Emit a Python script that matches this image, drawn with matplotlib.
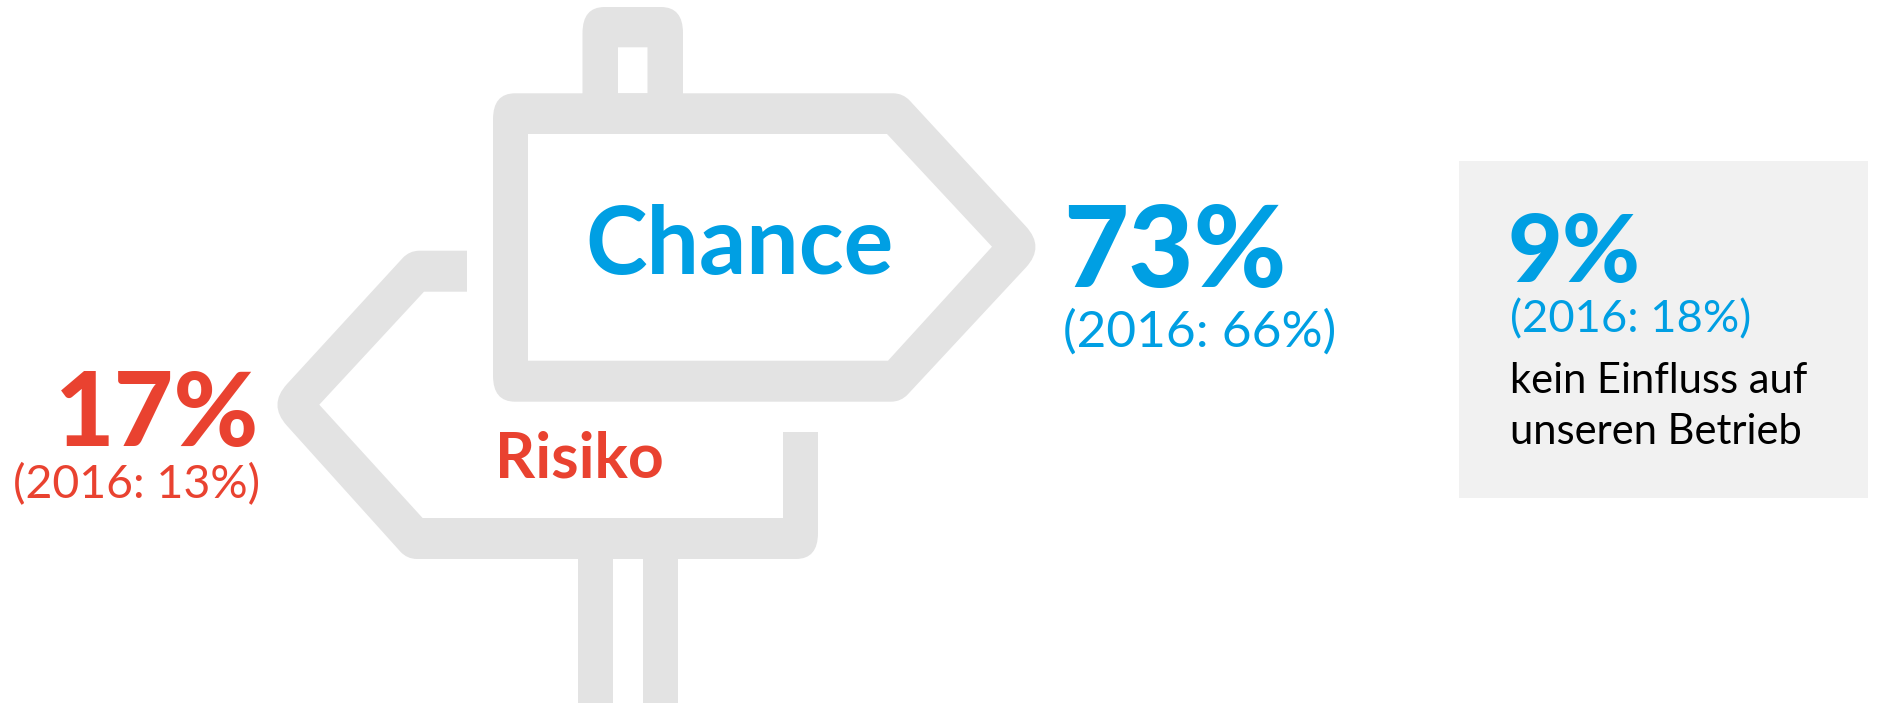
import matplotlib
matplotlib.use('Agg')
import matplotlib.pyplot as plt
from matplotlib.path import Path
from matplotlib.patches import PathPatch, Rectangle
import numpy as np

GREY = '#e3e3e3'
BLUE = '#009fe3'
RED = '#e94230'
BOX = '#f1f1f1'

plt.rcParams['font.family'] = ['Lato', 'Noto Sans', 'DejaVu Sans']

# values shown on the sign
chance_label = 'Chance'
risk_label = 'Risiko'
neutral_label = ['kein Einfluss auf', 'unseren Betrieb']
pct_now = {'chance': 73, 'risk': 17, 'neutral': 9}
pct_2016 = {'chance': 66, 'risk': 13, 'neutral': 18}

# sign outlines in pixels: x, y, cut towards previous corner, cut towards next corner
chance_outer = [(493, 93.3, 26, 22), (903, 93.3, 10, 10), (1045, 247, 28, 28),
                (901, 401.7, 10, 10), (493, 401.7, 22, 26)]
chance_inner = [(528, 134, 0, 0), (887, 134, 0, 0), (992, 246.7, 0, 0),
                (888, 360.7, 0, 0), (528, 360.7, 0, 0)]
post_outer = [(582.5, 100, 0, 0), (582.5, 7, 26, 22), (683, 7, 22, 26), (683, 100, 0, 0)]
post_hole = [(618, 47.3, 0, 0), (647.5, 47.3, 0, 0), (647.5, 93.3, 0, 0), (618, 93.3, 0, 0)]
risk_shape = [(467, 250.7, 0, 0), (467, 291.7, 0, 0), (424, 291.7, 0, 0), (319.3, 404.7, 0, 0),
              (422.6, 518, 0, 0), (783, 518, 0, 0), (783, 432, 0, 0), (818, 432, 0, 0),
              (818, 559, 26, 22), (407, 559, 10, 10), (268, 404.7, 28, 28),
              (409.4, 250.7, 10, 10)]
lower_posts = [(578, 613), (643, 678)]


def outline(corners):
    # closed outline, corners with a cut get a small curve
    verts, codes = [], []
    n = len(corners)
    for i, (x, y, d0, d1) in enumerate(corners):
        v = np.array([x, y], dtype=float)
        prev = np.array(corners[i - 1][:2], dtype=float)
        nxt = np.array(corners[(i + 1) % n][:2], dtype=float)
        if d0 == 0 and d1 == 0:
            verts.append(v)
            codes.append(Path.LINETO)
        else:
            a = v + (prev - v) / np.linalg.norm(prev - v) * d0
            b = v + (nxt - v) / np.linalg.norm(nxt - v) * d1
            verts += [a, v, b]
            codes += [Path.LINETO, Path.CURVE3, Path.CURVE3]
    codes[0] = Path.MOVETO
    verts.append(verts[0])
    codes.append(Path.CLOSEPOLY)
    return verts, codes


def shape(ax, outer, hole=None):
    verts, codes = outline(outer)
    if hole is not None:
        v2, c2 = outline(hole[::-1])
        verts = verts + v2
        codes = codes + c2
    ax.add_patch(PathPatch(Path(verts, codes), facecolor=GREY, edgecolor='none'))


fig = plt.figure(figsize=(18.77, 7.03), dpi=100)
ax = fig.add_axes([0, 0, 1, 1])
ax.set_xlim(0, 1877)
ax.set_ylim(703, 0)
ax.axis('off')

# grey box on the right
ax.add_patch(Rectangle((1459, 161), 409, 337, facecolor=BOX, edgecolor='none'))

# sign posts and boards
shape(ax, post_outer, post_hole)
shape(ax, chance_outer, chance_inner)
shape(ax, risk_shape)
for x0, x1 in lower_posts:
    ax.add_patch(Rectangle((x0, 555), x1 - x0, 148, facecolor=GREY, edgecolor='none'))

# board labels
ax.text(585, 274, chance_label, color=BLUE, fontsize=67, fontweight='bold', va='baseline')
ax.text(495, 478, risk_label, color=RED, fontsize=45, fontweight='bold', va='baseline')

# percentages
ax.text(1063, 287, f"{pct_now['chance']}%", color=BLUE, fontsize=81, fontweight='black', va='baseline')
ax.text(1063, 347, f"(2016: {pct_2016['chance']}%)", color=BLUE, fontsize=37, va='baseline')

ax.text(259, 446, f"{pct_now['risk']}%", color=RED, fontsize=74, fontweight='black', va='baseline', ha='right')
ax.text(13, 498, f"(2016: {pct_2016['risk']}%)", color=RED, fontsize=33.5, va='baseline')

ax.text(1508, 282, f"{pct_now['neutral']}%", color=BLUE, fontsize=68, fontweight='black', va='baseline')
ax.text(1510, 332, f"(2016: {pct_2016['neutral']}%)", color=BLUE, fontsize=32.7, va='baseline')

ax.text(1510, 393, neutral_label[0], color='black', fontsize=30, va='baseline')
ax.text(1510, 444, neutral_label[1], color='black', fontsize=30, va='baseline')

fig.savefig('out.png', dpi=100, facecolor='white')
